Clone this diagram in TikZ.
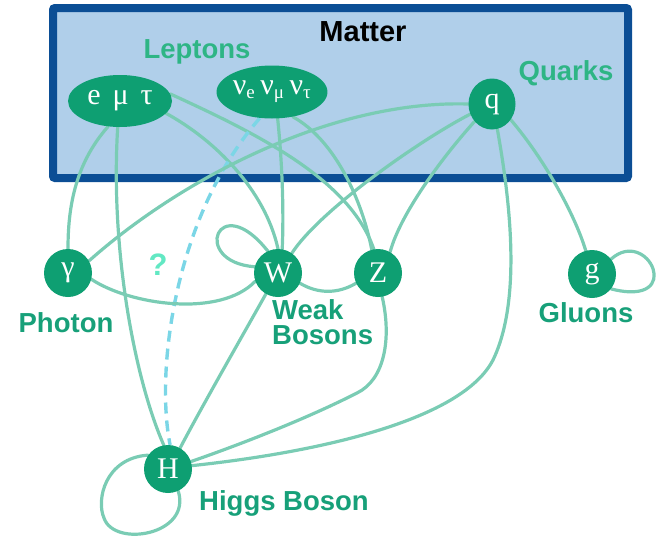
\documentclass[tikz,border=0pt]{standalone}
\usepackage{fontspec}
\setmainfont{Liberation Serif}
\newfontfamily\labfont{Liberation Sans}
\usetikzlibrary{shapes.geometric}
\definecolor{boxfill}{HTML}{B0CFEA}
\definecolor{boxline}{HTML}{0B4E95}
\definecolor{nodefill}{HTML}{0E9F72}
\definecolor{edgecol}{HTML}{7ACCB4}
\definecolor{dashcol}{HTML}{7BD6E6}
\definecolor{labgreen}{HTML}{17A079}
\definecolor{labgreenlight}{HTML}{2EB585}
\definecolor{qcol}{HTML}{62E8C3}
\pgfdeclarelayer{bg}
\pgfdeclarelayer{edges}
\pgfsetlayers{bg,edges,main}
\tikzset{
  particle/.style={circle, fill=nodefill, text=white, inner sep=0pt, minimum size=48pt,
    font=\fontsize{30}{32}\selectfont},
  lepton/.style={ellipse, fill=nodefill, text=white, inner sep=0pt,
    font=\fontsize{30}{32}\selectfont},
  edge/.style={draw=edgecol, line width=3.2pt, line cap=round},
  dashedge/.style={draw=dashcol, line width=3.4pt, dash pattern=on 11pt off 7pt},
  lab/.style={text=labgreen, font=\labfont\bfseries\fontsize{27.5}{25}\selectfont, inner sep=0pt},
  lablight/.style={text=labgreenlight, font=\labfont\bfseries\fontsize{27.5}{25}\selectfont, inner sep=0pt}
}
\begin{document}
\begin{tikzpicture}[x=1pt,y=-1pt]
\useasboundingbox (0,0) rectangle (656,541);
\begin{pgfonlayer}{bg}
\draw[fill=boxfill, draw=boxline, line width=8pt, rounded corners=2pt] (53,8) rectangle (628,178);
\end{pgfonlayer}

% nodes
\node[lepton, minimum width=104pt, minimum height=52pt] (e) at (120,101) {e\hspace{0.4em}μ\hspace{0.4em}τ};
\node[lepton, minimum width=110pt, minimum height=53pt] (nu) at (272,92) {ν\textsubscript{\fontsize{19}{19}\selectfont e}\,ν\textsubscript{\fontsize{19}{19}\selectfont μ}\,ν\textsubscript{\fontsize{19}{19}\selectfont τ}};
\node[particle, ellipse, minimum width=47pt, minimum height=51pt] (q) at (492,104) {q};
\node[particle] (gam) at (68,273) {γ};
\node[particle] (W) at (278,273) {W};
\node[particle] (Z) at (378,273) {Z};
\node[particle] (g) at (592,274) {g};
\node[particle] (H) at (168,469) {H};

% labels
\node[font=\labfont\bfseries\fontsize{29}{30}\selectfont, inner sep=0pt] (matter) at (363,32) {Matter};
\node[lablight] (leptons) at (197,52) {Leptons};
\node[lablight] (quarks) at (566,73) {Quarks};
\node[lab] (photon) at (66,323) {Photon};
\node[lab, align=left, anchor=west] (weak) at (272,322) {Weak\\Bosons};
\node[lab] (gluons) at (586,313) {Gluons};
\node[lab] (higgs) at (284,503) {Higgs Boson};
\node[text=qcol, font=\labfont\bfseries\fontsize{31}{32}\selectfont, inner sep=0pt] (qm) at (158,265) {?};

\begin{pgfonlayer}{edges}
% lepton edges
\draw[edge] (e.245) .. controls (74,165) and (68,210) .. (gam.north);
\draw[edge] (e.265) .. controls (110,250) and (135,380) .. (H.100);
\draw[edge] (e.345) .. controls (215,140) and (265,190) .. (W.north);
\draw[edge] (e.8) .. controls (260,135) and (350,180) .. (Z.100);
\draw[edge] (nu.282) .. controls (282,160) and (284,210) .. (W.80);
\draw[edge] (nu.310) .. controls (335,140) and (362,200) .. (Z.105);
\draw[dashedge] (nu.245) .. controls (175,215) and (155,370) .. (H.85);
% quark edges
\draw[edge] (q.west) .. controls (330,100) and (180,180) .. (gam.30);
\draw[edge] (q.205) .. controls (420,140) and (320,210) .. (W.55);
\draw[edge] (q.225) .. controls (440,160) and (400,215) .. (Z.60);
\draw[edge] (q.282) .. controls (510,200) and (522,300) .. (493,360)
  .. controls (462,420) and (320,452) .. (H.8);
\draw[edge] (q.320) .. controls (545,160) and (575,215) .. (g.105);
% boson edges
\draw[edge] (gam.345) .. controls (130,305) and (220,318) .. (W.200);
\draw[edge] (W.-25) .. controls (318,294) and (338,294) .. (Z.205);
\draw[edge] (W.165) .. controls (190,262) and (218,188) .. (W.115);
\draw[edge] (W.240) .. controls (240,340) and (200,410) .. (H.60);
\draw[edge] (Z.280) .. controls (392,340) and (384,380) .. (357,393)
  .. controls (300,422) and (230,448) .. (H.18);
\draw[edge] (H.145) .. controls (105,458) and (96,500) .. (104,518)
  .. controls (114,548) and (192,535) .. (H.295);
\draw[edge] (g.38) .. controls (648,226) and (686,308) .. (g.322);
\end{pgfonlayer}
\end{tikzpicture}
\end{document}
